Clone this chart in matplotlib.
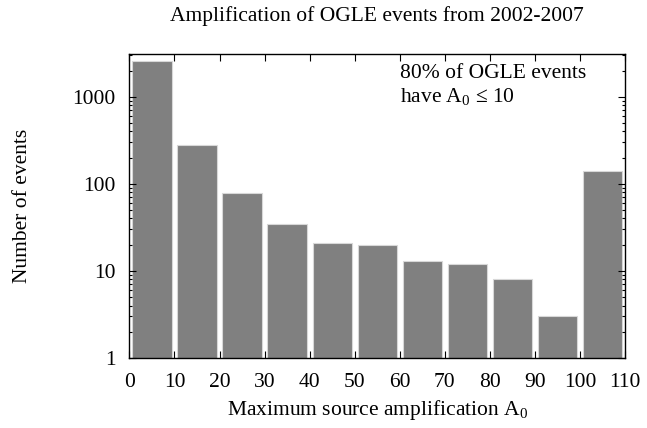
import numpy as np
import matplotlib
matplotlib.use('Agg')
import matplotlib.pyplot as plt
from matplotlib.ticker import LogLocator, FixedLocator, NullFormatter

plt.rcParams['font.family'] = ['Liberation Serif', 'DejaVu Serif']
plt.rcParams['mathtext.fontset'] = 'custom'
plt.rcParams['mathtext.rm'] = 'Liberation Serif'
plt.rcParams['mathtext.it'] = 'Liberation Serif:italic'

# Histogram data
bin_left = [0, 10, 20, 30, 40, 50, 60, 70, 80, 90, 100]
counts = [2600, 280, 78, 35, 21, 20, 13, 12, 8, 3, 140]
xticks = [0, 10, 20, 30, 40, 50, 60, 70, 80, 90, 100, 110]

fig = plt.figure(figsize=(6.47, 4.28), dpi=100)
ax = fig.add_axes([0.200, 0.1636, 0.766, 0.7104])

centers = np.array(bin_left) + 5
ax.bar(centers, counts, width=8.7, color='#808080', edgecolor='#d8d8d8',
       linewidth=0.8)

ax.set_yscale('log')
ax.set_ylim(1, 3100)
ax.set_xlim(0, 110)
ax.xaxis.set_major_locator(FixedLocator(xticks))
ax.set_yticks([1, 10, 100, 1000])
ax.set_yticklabels(['1', '10', '100', '1000'])
ax.yaxis.set_minor_locator(LogLocator(base=10, subs=np.arange(2, 10)))
ax.yaxis.set_minor_formatter(NullFormatter())

ax.tick_params(which='both', direction='in', top=True, right=True,
               labelsize=15.5, width=0.8)
ax.tick_params(which='major', length=5)
ax.tick_params(which='minor', length=2.5)
ax.tick_params(axis='x', pad=11)
ax.tick_params(axis='y', pad=10)
for s in ax.spines.values():
    s.set_linewidth(1.0)

ax.set_xlabel(r'Maximum source amplification A$_\mathrm{0}$', fontsize=15.5, labelpad=4)
ax.set_ylabel('Number of events', fontsize=15.5, labelpad=29)
fig.text(0.582, 0.962, 'Amplification of OGLE events from 2002-2007',
         ha='center', va='center', fontsize=15.5)

fig.text(400 / 647, 1 - 78 / 428, '80% of OGLE events',
         ha='left', va='baseline', fontsize=15.5)
fig.text(400 / 647, 1 - 102 / 428, 'have A$_\\mathrm{0}$ \u2264 10',
         ha='left', va='baseline', fontsize=15.5)

fig.savefig('out.png', dpi=100)
